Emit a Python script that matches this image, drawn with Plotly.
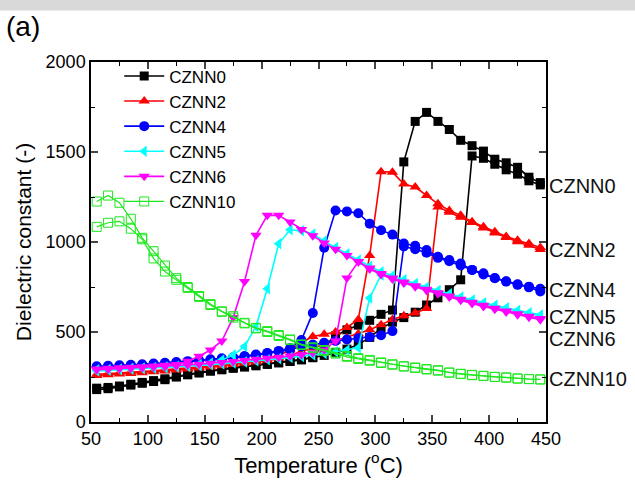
import plotly.graph_objects as go

# Temperature grid (°C), shared by both branches of every sample
T = [55, 65, 75, 85, 95, 105, 115, 125, 135, 145,
     155, 165, 175, 185, 195, 205, 215, 225, 235, 245,
     255, 265, 275, 285, 295, 305, 315, 325, 335, 345,
     355, 365, 375, 385, 395, 405, 415, 425, 435, 445]

labels = ["CZNN0", "CZNN2", "CZNN4", "CZNN5", "CZNN6", "CZNN10"]

# branch A and branch B (hysteresis loop) for each composition
CZNN0_A = [180, 185, 195, 205, 215, 225, 235, 250, 262, 272,
           282, 290, 298, 305, 312, 320, 328, 336, 345, 362,
           425, 478, 512, 538, 565, 598, 622, 1445, 1670, 1720,
           1670, 1625, 1565, 1535, 1505, 1460, 1440, 1415, 1360, 1330]
CZNN0_B = [188, 192, 200, 210, 220, 230, 240, 252, 265, 276,
           286, 294, 302, 309, 316, 323, 331, 339, 347, 357,
           370, 385, 405, 430, 470, 520, 555, 580, 610, 650,
           690, 735, 790, 1478, 1465, 1432, 1401, 1377, 1340, 1317]

CZNN2_A = [265, 268, 272, 276, 280, 285, 290, 295, 300, 306,
           312, 318, 325, 332, 340, 352, 370, 400, 440, 475,
           488, 500, 525, 570, 925, 1390, 1388, 1322, 1305, 1258,
           1212, 1175, 1148, 1113, 1085, 1057, 1030, 1010, 992, 970]
CZNN2_B = [258, 262, 266, 270, 274, 279, 284, 289, 294, 300,
           306, 312, 319, 326, 334, 343, 354, 370, 392, 412,
           430, 450, 468, 490, 512, 540, 570, 590, 605, 630,
           1195, 1165, 1138, 1108, 1078, 1050, 1025, 1002, 982, 958]

CZNN4_A = [310, 312, 315, 318, 321, 325, 329, 333, 338, 343,
           348, 354, 360, 367, 375, 384, 395, 410, 455, 606,
           968, 1175, 1170, 1160, 1102, 1065, 1041, 992, 979, 955,
           918, 900, 881, 845, 826, 799, 780, 762, 752, 740]
CZNN4_B = [305, 308, 311, 314, 317, 321, 325, 329, 334, 339,
           344, 350, 356, 363, 371, 380, 390, 402, 420, 430,
           440, 450, 458, 465, 472, 482, 505, 975, 960, 940,
           912, 893, 870, 845, 820, 800, 782, 765, 748, 725]

CZNN5_A = [290, 292, 295, 298, 300, 303, 306, 310, 314, 320,
           328, 345, 372, 420, 530, 740, 990, 1068, 1062, 1045,
           1005, 970, 935, 900, 865, 835, 812, 790, 770, 750,
           730, 712, 695, 678, 662, 648, 634, 620, 607, 595]
CZNN5_B = [284, 287, 290, 293, 296, 299, 302, 305, 309, 313,
           318, 323, 328, 334, 340, 346, 352, 358, 364, 372,
           380, 390, 400, 413, 689, 817, 800, 782, 765, 745,
           725, 708, 690, 673, 658, 644, 630, 616, 603, 590]

CZNN6_A = [295, 298, 301, 304, 307, 311, 315, 320, 338, 365,
           400, 450, 580, 781, 1037, 1148, 1148, 1111, 1070, 1035,
           995, 960, 925, 890, 855, 825, 800, 778, 757, 738,
           718, 700, 682, 665, 648, 632, 617, 602, 588, 575]
CZNN6_B = [290, 293, 296, 299, 302, 305, 309, 313, 317, 321,
           326, 331, 336, 342, 348, 354, 360, 367, 374, 385,
           400, 450, 800, 890, 850, 820, 795, 772, 751, 731,
           712, 694, 676, 659, 642, 626, 611, 596, 582, 568]

CZNN10_A = [1225, 1258, 1218, 1129, 1023, 949, 869, 799, 750, 700,
            655, 615, 588, 551, 523, 505, 483, 459, 431, 415,
            400, 386, 367, 355, 345, 331, 321, 310, 303, 294,
            288, 275, 268, 262, 257, 251, 248, 242, 239, 237]
CZNN10_B = [1084, 1107, 1115, 1074, 1015, 909, 836, 790, 745, 695,
            650, 612, 580, 548, 520, 500, 478, 455, 428, 410,
            395, 380, 362, 350, 340, 328, 318, 308, 300, 292,
            285, 274, 266, 260, 255, 250, 246, 241, 238, 236]

series_A = [CZNN0_A, CZNN2_A, CZNN4_A, CZNN5_A, CZNN6_A, CZNN10_A]
series_B = [CZNN0_B, CZNN2_B, CZNN4_B, CZNN5_B, CZNN6_B, CZNN10_B]

# end-of-curve label positions (data y)
label_y = [1310, 955, 735, 585, 462, 237]

colors = ["#000000", "#ff0000", "#0000ff", "#00ffff", "#ff00ff", "#1ee81e"]
symbols = ["square", "triangle-up", "circle", "triangle-left", "triangle-down", "square-open"]
msizes = [9, 10, 10, 10, 10, 9]
lwidths = [1.6, 1.6, 1.6, 1.6, 1.6, 1.2]

fig = go.Figure()
for i, name in enumerate(labels):
    xs = T + [None] + T
    ys = series_A[i] + [None] + series_B[i]
    fig.add_trace(go.Scatter(
        x=xs, y=ys, name=name, mode="lines+markers",
        line=dict(color=colors[i], width=lwidths[i]),
        marker=dict(symbol=symbols[i], size=msizes[i], color=colors[i],
                    line=dict(width=1 if symbols[i] == "square-open" else 0, color=colors[i])),
        connectgaps=False, legendrank=i + 1,
    ))

font = "Liberation Sans, Arial, sans-serif"

for i, name in enumerate(labels):
    fig.add_annotation(x=1.003, xref="paper", y=label_y[i], yref="y",
                       text=name, showarrow=False, xanchor="left", yanchor="middle",
                       font=dict(family=font, size=20, color="#111111"))

fig.add_annotation(x=-0.192, xref="paper", y=1.099, yref="paper", text="(a)",
                   showarrow=False, xanchor="left", yanchor="middle",
                   font=dict(family=font, size=28, color="#000000"))

fig.add_shape(type="rect", xref="paper", yref="paper", x0=-0.5, x1=1.5,
              y0=1.143, y1=1.25, fillcolor="#d9d9d9", line=dict(width=0), layer="below")

fig.update_layout(
    width=635, height=481,
    margin=dict(l=91, r=89, t=62, b=56),
    paper_bgcolor="white", plot_bgcolor="white",
    font=dict(family=font, size=18, color="#000000"),
    showlegend=True,
    legend=dict(x=0.062, y=1.01, xanchor="left", yanchor="top",
                bgcolor="rgba(0,0,0,0)", font=dict(family=font, size=17),
                tracegroupgap=0, itemsizing="trace", itemwidth=40),
)
fig.update_xaxes(
    range=[50, 450], dtick=50, tick0=50, ticks="inside", ticklen=7, tickwidth=1.5,
    showline=True, linecolor="black", linewidth=1.5, mirror="ticks",
    showgrid=False, zeroline=False,
    minor=dict(dtick=25, ticks="inside", ticklen=4, tickwidth=1.2, tickcolor="black"),
    title=dict(text="Temperature (<sup>o</sup>C)", font=dict(family=font, size=22), standoff=4),
    tickfont=dict(family=font, size=18),
)
fig.update_yaxes(
    range=[0, 2000], dtick=500, ticks="inside", ticklen=7, tickwidth=1.5,
    showline=True, linecolor="black", linewidth=1.5, mirror="ticks",
    showgrid=False, zeroline=False,
    minor=dict(dtick=250, ticks="inside", ticklen=4, tickwidth=1.2, tickcolor="black"),
    title=dict(text="Dielectric constant (-)", font=dict(family=font, size=21), standoff=8),
    tickfont=dict(family=font, size=18),
)

fig.write_html("out.html")
